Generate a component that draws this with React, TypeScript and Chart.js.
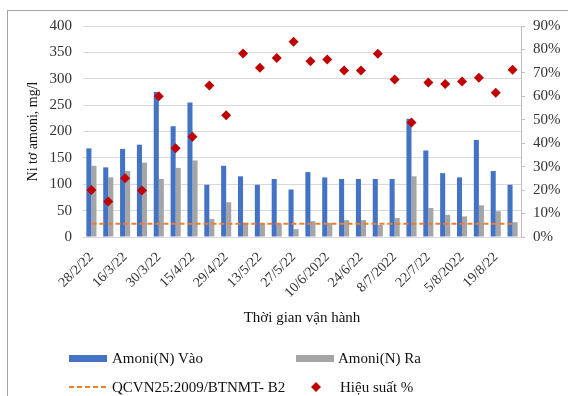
import React, { useEffect, useRef } from 'react';
import { Chart, registerables } from 'chart.js';

Chart.register(...registerables);

const categories = [
  '28/2/22', '8/3/22', '16/3/22', '23/3/22', '30/3/22', '7/4/22', '15/4/22', '22/4/22',
  '29/4/22', '6/5/22', '13/5/22', '20/5/22', '27/5/22', '3/6/22', '10/6/2022', '17/6/22',
  '24/6/22', '1/7/22', '8/7/2022', '15/7/22', '22/7/22', '29/7/22', '5/8/2022', '12/8/22',
  '19/8/22', '26/8/22',
];

const amoniVao = [168, 132, 167, 175, 275, 210, 255, 99, 135, 115, 99, 110, 90, 123, 113, 110, 110, 110, 110, 224, 164, 121, 113, 184, 125, 99];
const amoniRa = [135, 113, 125, 141, 110, 131, 145, 34, 66, 27, 26, 26, 15, 30, 27, 32, 32, 23, 36, 115, 55, 42, 39, 60, 49, 28];
const quyChuan = [25, 25, 25, 25, 25, 25, 25, 25, 25, 25, 25, 25, 25, 25, 25, 25, 25, 25, 25, 25, 25, 25, 25, 25, 25, 25];
const hieuSuat = [20.1, 15.1, 25.1, 19.8, 60.0, 37.9, 42.8, 64.6, 51.9, 78.3, 72.2, 76.3, 83.3, 75.0, 75.7, 71.0, 71.0, 78.2, 67.2, 48.8, 65.9, 65.3, 66.3, 67.9, 61.5, 71.3];

const leftTicksMax = 400;
const leftStep = 50;
const rightTicksMax = 90;
const rightStep = 10;

const FONT = "'Liberation Serif', 'Times New Roman', serif";

export default function App() {
  const canvasRef = useRef<HTMLCanvasElement | null>(null);

  useEffect(() => {
    if (!canvasRef.current) return;
    const chart = new Chart(canvasRef.current, {
      type: 'bar',
      data: {
        labels: categories,
        datasets: [
          {
            type: 'line',
            label: 'Hiệu suất %',
            data: hieuSuat,
            yAxisID: 'y1',
            showLine: false,
            pointStyle: 'rectRot',
            pointRadius: 5,
            pointBackgroundColor: '#C00000',
            pointBorderColor: '#C00000',
            pointBorderWidth: 0,
            backgroundColor: '#C00000',
            borderColor: '#C00000',
            order: 0,
          } as any,
          {
            type: 'line',
            label: 'QCVN25:2009/BTNMT- B2',
            data: quyChuan,
            yAxisID: 'y',
            borderColor: '#ED7D31',
            borderWidth: 2,
            borderDash: [5, 3],
            pointRadius: 0,
            fill: false,
            order: 1,
          } as any,
          {
            type: 'bar',
            label: 'Amoni(N) Vào',
            data: amoniVao,
            yAxisID: 'y',
            backgroundColor: '#4472C4',
            categoryPercentage: 0.6,
            barPercentage: 1.0,
            order: 2,
          },
          {
            type: 'bar',
            label: 'Amoni(N) Ra',
            data: amoniRa,
            yAxisID: 'y',
            backgroundColor: '#A5A5A5',
            categoryPercentage: 0.6,
            barPercentage: 1.0,
            order: 3,
          },
        ],
      },
      options: {
        animation: false,
        responsive: false,
        maintainAspectRatio: false,
        layout: { padding: { top: 26, left: 0, right: 0, bottom: 0 } },
        plugins: {
          legend: { display: false },
          tooltip: { enabled: false },
        },
        scales: {
          x: {
            grid: { display: false },
            border: { display: true, color: '#d9d9d9' },
            ticks: {
              autoSkip: false,
              minRotation: 45,
              maxRotation: 45,
              padding: 4,
              color: '#333',
              font: { family: FONT, size: 14 },
              callback: (_v: any, i: number) => (i % 2 === 0 ? categories[i] : ''),
            },
            title: {
              display: true,
              text: 'Thời gian vận hành',
              color: '#111',
              font: { family: FONT, size: 15, lineHeight: 1.2 },
              padding: { top: 0, bottom: 69 },
            },
            afterFit: (s: any) => {
              s.height = 159;
            },
          },
          y: {
            position: 'left',
            min: 0,
            max: leftTicksMax,
            ticks: {
              stepSize: leftStep,
              padding: 11,
              color: '#333',
              font: { family: FONT, size: 15 },
            },
            grid: { color: '#d9d9d9', drawTicks: false },
            border: { display: false },
            title: {
              display: true,
              text: 'Ni tơ amoni, mg/l',
              color: '#111',
              font: { family: FONT, size: 14, lineHeight: 1.2 },
              padding: { top: 25, bottom: 0 },
            },
            afterFit: (s: any) => {
              s.width = 83;
            },
          },
          y1: {
            position: 'right',
            min: 0,
            max: rightTicksMax,
            ticks: {
              stepSize: rightStep,
              padding: 8,
              color: '#333',
              font: { family: FONT, size: 15 },
              callback: (v: any) => `${v}%`,
            },
            grid: { drawOnChartArea: false, drawTicks: true, tickLength: 4, color: '#bfbfbf' },
            border: { display: true, color: '#bfbfbf' },
            afterFit: (s: any) => {
              s.width = 47;
            },
          },
        },
      } as any,
    });
    return () => chart.destroy();
  }, []);

  const textStyle: React.CSSProperties = {
    position: 'absolute',
    fontFamily: FONT,
    fontSize: 15,
    color: '#111',
    lineHeight: '18px',
    whiteSpace: 'nowrap',
    transform: 'translateY(-50%)',
  };

  return (
    <div
      style={{
        position: 'fixed',
        left: 0,
        top: 0,
        width: 568,
        height: 396,
        background: '#fff',
        overflow: 'hidden',
      }}
    >
      <div
        style={{
          position: 'absolute',
          left: 7,
          top: 10,
          width: 700,
          height: 500,
          borderLeft: '1px solid #a6a6a6',
          borderTop: '1px solid #a6a6a6',
        }}
      />
      <canvas
        ref={canvasRef}
        width={568}
        height={396}
        style={{ position: 'absolute', left: 0, top: 0, width: 568, height: 396 }}
      />
      {/* Legend */}
      <div style={{ position: 'absolute', left: 69, top: 355, width: 38, height: 7, background: '#4472C4' }} />
      <div style={{ ...textStyle, left: 112, top: 358 }}>Amoni(N) Vào</div>
      <div style={{ position: 'absolute', left: 296, top: 355, width: 38, height: 7, background: '#A5A5A5' }} />
      <div style={{ ...textStyle, left: 338, top: 358 }}>Amoni(N) Ra</div>
      <svg style={{ position: 'absolute', left: 69, top: 382 }} width={40} height={10}>
        <line x1={0} y1={5} x2={38} y2={5} stroke="#ED7D31" strokeWidth={2} strokeDasharray="5 3" />
      </svg>
      <div style={{ ...textStyle, left: 112, top: 387 }}>QCVN25:2009/BTNMT- B2</div>
      <svg style={{ position: 'absolute', left: 311, top: 382 }} width={10} height={10}>
        <polygon points="5,0 10,5 5,10 0,5" fill="#C00000" />
      </svg>
      <div style={{ ...textStyle, left: 340, top: 387 }}>Hiệu suất %</div>
    </div>
  );
}
